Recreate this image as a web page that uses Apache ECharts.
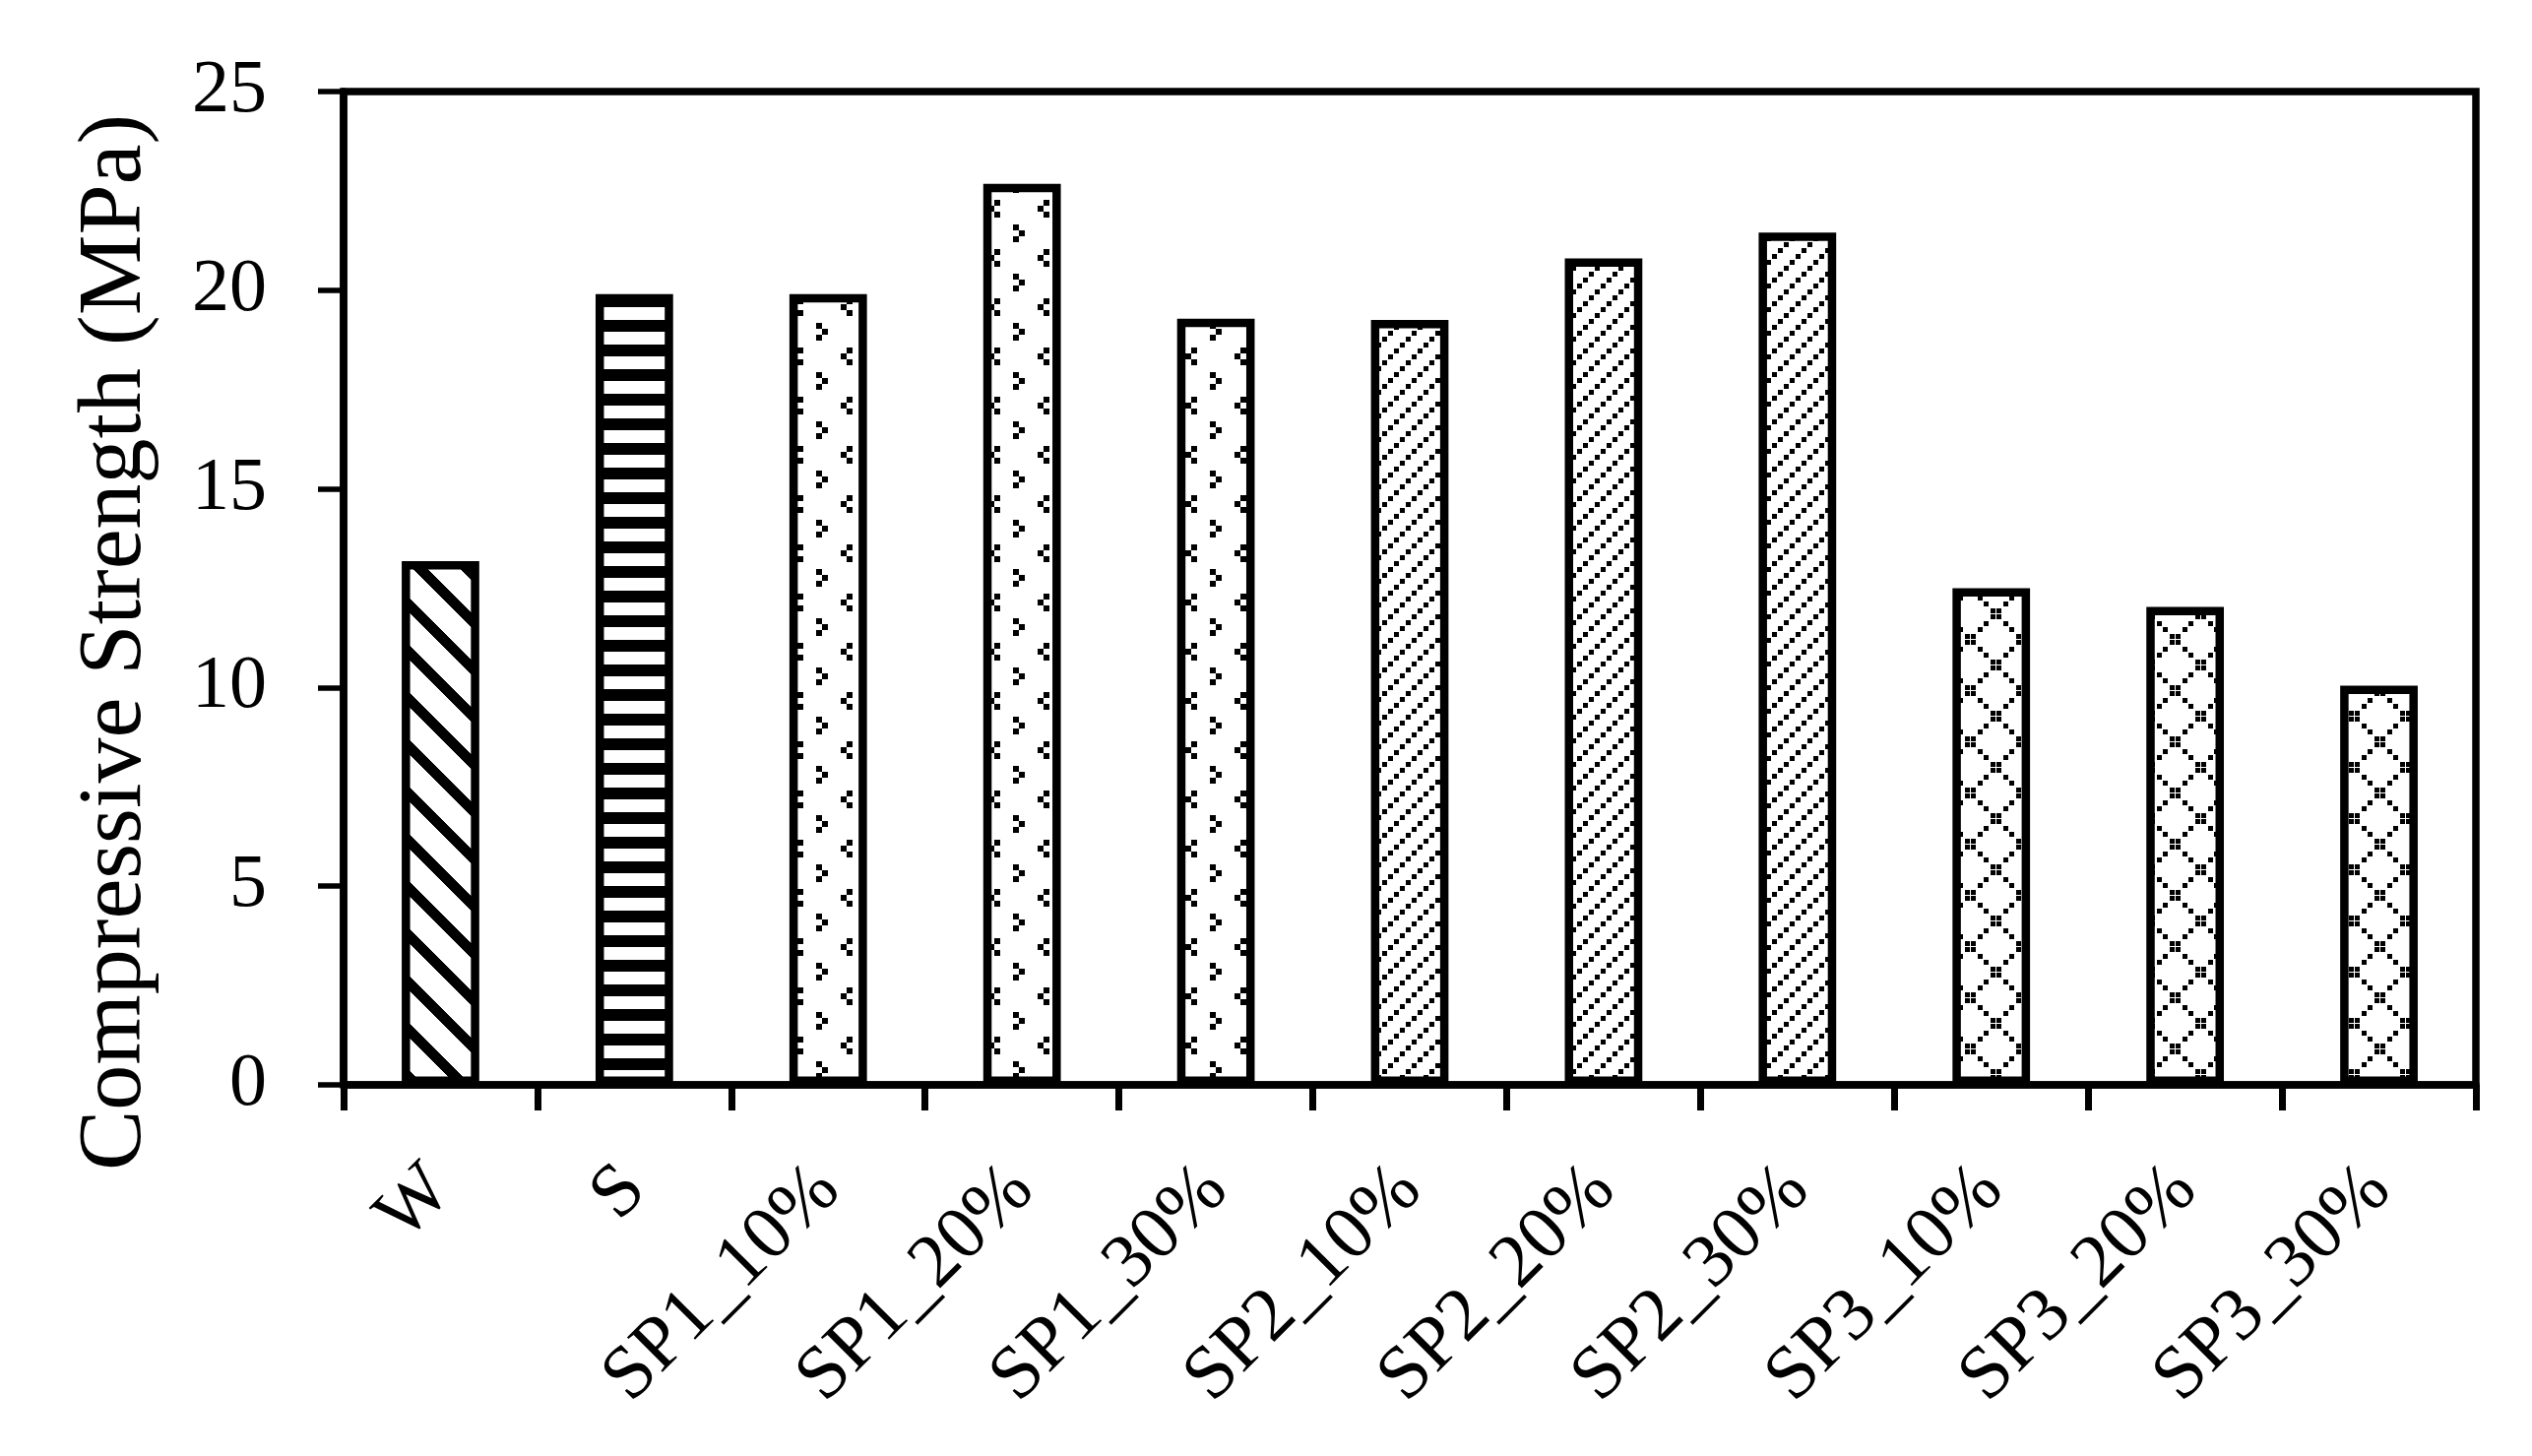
<!DOCTYPE html>
<html>
<head>
<meta charset="utf-8">
<script src="https://cdn.jsdelivr.net/npm/echarts@6/dist/echarts.min.js"></script>
<style>
html,body{margin:0;padding:0;background:#fff;}
#chart{width:2572px;height:1479px;}
</style>
</head>
<body>
<div id="chart"></div>
<script>
// ---- data ----
var categories = ['W', 'S', 'SP1_10%', 'SP1_20%', 'SP1_30%', 'SP2_10%', 'SP2_20%', 'SP2_30%', 'SP3_10%', 'SP3_20%', 'SP3_30%'];
var strength = [13.18, 19.9, 19.9, 22.68, 19.28, 19.25, 20.8, 21.45, 12.5, 12.03, 10.05];
var yTicks = [0, 5, 10, 15, 20, 25];
var patternKeys = ['diag', 'hstripe', 'confetti', 'confetti', 'confetti', 'dotdiag', 'dotdiag', 'dotdiag', 'lattice', 'lattice', 'lattice'];

// ---- fill patterns (styles) ----
function tile(w, h, draw) {
  var c = document.createElement('canvas');
  c.width = w; c.height = h;
  var ctx = c.getContext('2d');
  ctx.fillStyle = '#fff';
  ctx.fillRect(0, 0, w, h);
  ctx.fillStyle = '#000';
  draw(ctx, w, h);
  return c;
}
var patterns = {
  diag: tile(48, 48, function (ctx, w, h) {
    var P = 48, t = 15;
    for (var y = 0; y < h; y++) for (var x = 0; x < w; x++) {
      var m = (((y - x) % P) + P) % P;
      if (m < t) ctx.fillRect(x, y, 1, 1);
    }
  }),
  hstripe: tile(8, 25, function (ctx, w, h) {
    ctx.fillRect(0, 0, w, 12);
  }),
  confetti: tile(50, 50, function (ctx) {
    var s = 6;
    // "<"
    ctx.fillRect(10, 3, s, s); ctx.fillRect(4, 9, s, s); ctx.fillRect(10, 15, s, s);
    // ">"
    ctx.fillRect(29, 28, s, s); ctx.fillRect(35, 34, s, s); ctx.fillRect(29, 40, s, s);
  }),
  dotdiag: tile(24, 24, function (ctx) {
    for (var k = 0; k < 4; k++) ctx.fillRect(18 - 6 * k, 6 * k, 5, 5);
  }),
  lattice: tile(52, 52, function (ctx) {
    for (var k = 0; k < 8; k++) {
      var p = Math.round(6.5 * k);
      ctx.fillRect(p, p, 5, 5);
      ctx.fillRect(p, 52 - 6 - p, 5, 5);
    }
  })
};

var FONT = '"Liberation Serif", "Times New Roman", serif';

var chart = echarts.init(document.getElementById('chart'), null, {renderer: 'canvas'});
chart.setOption({
  animation: false,
  backgroundColor: '#fff',
  grid: {
    left: 349, right: 57, top: 93, bottom: 377,
    show: true, borderColor: '#000', borderWidth: 7.5, backgroundColor: 'transparent'
  },
  xAxis: {
    type: 'category',
    data: categories,
    axisLine: {show: true, lineStyle: {color: '#000', width: 7.5}},
    axisTick: {show: true, length: 26, lineStyle: {color: '#000', width: 7}},
    axisLabel: {
      interval: 0, rotate: 45, margin: 95,
      fontFamily: FONT, fontSize: 77, color: '#000'
    },
    splitLine: {show: false}
  },
  yAxis: {
    type: 'value',
    min: yTicks[0], max: yTicks[yTicks.length - 1], interval: yTicks[1] - yTicks[0],
    axisLine: {show: true, lineStyle: {color: '#000', width: 7.5}},
    axisTick: {show: true, length: 26, lineStyle: {color: '#000', width: 5.5}},
    axisLabel: {margin: 78, fontFamily: FONT, fontSize: 76, color: '#000'},
    splitLine: {show: false},
    name: 'Compressive Strength (MPa)',
    nameLocation: 'middle',
    nameGap: 185,
    nameTextStyle: {fontFamily: FONT, fontSize: 92, color: '#000', padding: [0, 110, 0, 0]}
  },
  series: [{
    type: 'bar',
    barWidth: '40%',
    data: strength.map(function (v, i) {
      return {
        value: v,
        itemStyle: {
          color: {image: patterns[patternKeys[i]], repeat: 'repeat'},
          borderColor: '#000',
          borderWidth: 8.5
        }
      };
    }),
    itemStyle: {borderColor: '#000', borderWidth: 8.5}
  }]
});
</script>
</body>
</html>
